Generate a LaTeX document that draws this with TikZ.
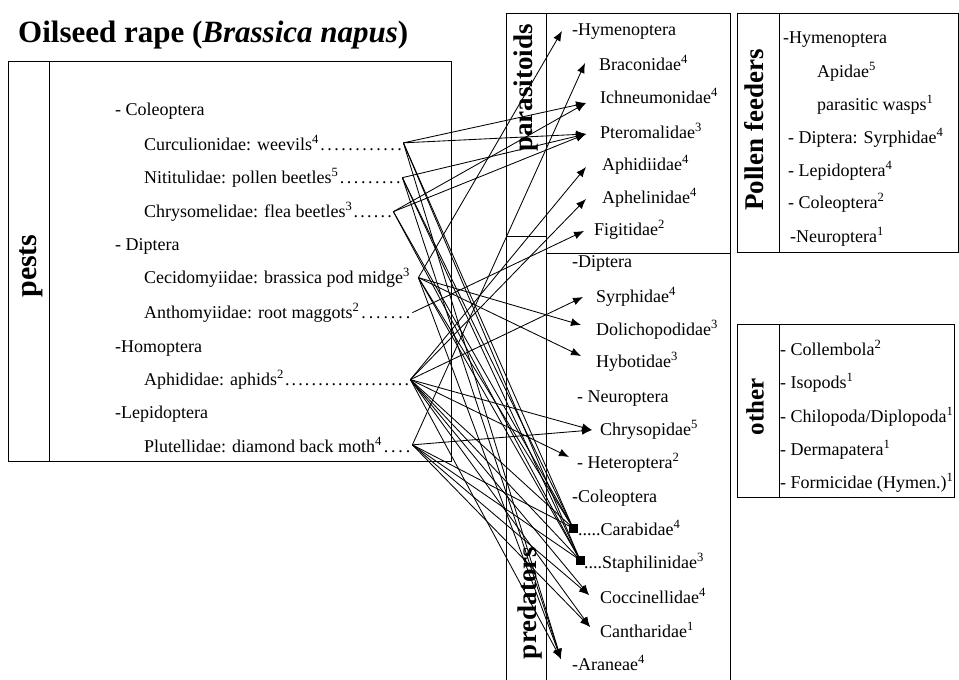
\documentclass[tikz,border=0pt]{standalone}
\usepackage{fontspec}
\setmainfont{Liberation Serif}
\usetikzlibrary{arrows.meta}
\newcommand\pdots{\xleaders\hbox to 6.6pt{\hss.\hss}\hfill}
\begin{document}
\begin{tikzpicture}[x=1pt,y=-1pt,
  txt/.style={anchor=base west,inner sep=0pt,font=\fontsize{18}{20}\selectfont},
  lab/.style={rotate=90,inner sep=0pt,font=\bfseries\fontsize{27}{30}\selectfont},
  boxline/.style={line width=1pt},
  link/.style={line width=0.85pt,-{Latex[length=10pt,width=8pt]}},
  sqlink/.style={line width=0.85pt},
  sqmark/.style={fill=black}]
\fill[white] (0,0) rectangle (959,680);
\useasboundingbox (0,0) rectangle (959,680);

% title
\node[anchor=base west,inner sep=0pt,font=\bfseries\fontsize{31}{34}\selectfont] (title) at (18,42) {Oilseed rape (\textit{Brassica napus})};

% pests box
\draw[boxline] (8,61) rectangle (451,461);
\draw[boxline] (49,61) -- (49,461);
\node[lab,font=\bfseries\fontsize{30}{32}\selectfont] (pests) at (31,266) {pests};
\node[txt] (pcol) at (115,115) {- Coleoptera};
\node[txt] (curc) at (144,150) {\makebox[259pt][l]{Curculionidae: weevils\textsuperscript{4}\pdots}};
\node[txt] (nit) at (144,183) {\makebox[258pt][l]{Nititulidae: pollen beetles\textsuperscript{5}\pdots}};
\node[txt] (chrys) at (144,217) {\makebox[249pt][l]{Chrysomelidae: flea beetles\textsuperscript{3}\pdots}};
\node[txt] (pdipt) at (115,250) {- Diptera};
\node[txt] (cecid) at (144,283) {\makebox[274pt][l]{Cecidomyiidae: brassica pod midge\textsuperscript{3}}};
\node[txt] (anth) at (144,318) {\makebox[268pt][l]{Anthomyiidae: root maggots\textsuperscript{2}\pdots}};
\node[txt] (phom) at (115,352) {-Homoptera};
\node[txt] (aph) at (144,385) {\makebox[266pt][l]{Aphididae: aphids\textsuperscript{2}\pdots}};
\node[txt] (plep) at (115,418) {-Lepidoptera};
\node[txt] (plut) at (144,452) {\makebox[268pt][l]{Plutellidae: diamond back moth\textsuperscript{4}\pdots}};

% parasitoids / predators frame
\draw[boxline] (506,680) -- (506,13) -- (730,13) -- (730,680);
\draw[boxline] (546,13) -- (546,680);
\draw[boxline] (506,236) -- (546,236);
\draw[boxline] (546,253) -- (730,253);
\node[lab] (parlab) at (526,88) {parasitoids};
\node[lab] (predlab) at (530,603) {predators};

\node[txt] (hym) at (572,35) {-Hymenoptera};
\node[txt] (brac) at (599,70) {Braconidae\textsuperscript{4}};
\node[txt] (ichn) at (600,103) {Ichneumonidae\textsuperscript{4}};
\node[txt] (pter) at (600,138) {Pteromalidae\textsuperscript{3}};
\node[txt] (aphidi) at (602,170) {Aphidiidae\textsuperscript{4}};
\node[txt] (aphel) at (602,203) {Aphelinidae\textsuperscript{4}};
\node[txt] (figit) at (594,235) {Figitidae\textsuperscript{2}};

\node[txt] (qdip) at (572,267) {-Diptera};
\node[txt] (syrph) at (596,302) {Syrphidae\textsuperscript{4}};
\node[txt] (dolich) at (596,335) {Dolichopodidae\textsuperscript{3}};
\node[txt] (hybot) at (596,367) {Hybotidae\textsuperscript{3}};
\node[txt] (qneur) at (577,402) {- Neuroptera};
\node[txt] (chrysop) at (600,435) {Chrysopidae\textsuperscript{5}};
\node[txt] (hetero) at (577,468) {- Heteroptera\textsuperscript{2}};
\node[txt] (qcol) at (572,502) {-Coleoptera};
\node[txt] (carab) at (578,535) {.....Carabidae\textsuperscript{4}};
\node[txt] (staph) at (584,568) {....Staphilinidae\textsuperscript{3}};
\node[txt] (cocc) at (600,603) {Coccinellidae\textsuperscript{4}};
\node[txt] (canth) at (600,637) {Cantharidae\textsuperscript{1}};
\node[txt] (aran) at (572,670) {-Araneae\textsuperscript{4}};

% pollen feeders
\draw[boxline] (737,13) rectangle (958,252);
\draw[boxline] (779,13) -- (779,252);
\node[lab] (pollab) at (754,130) {Pollen feeders};
\node[txt] (pf1) at (783,43) {-Hymenoptera};
\node[txt] (pf2) at (817,77) {Apidae\textsuperscript{5}};
\node[txt] (pf3) at (817,110) {parasitic wasps\textsuperscript{1}};
\node[txt] (pf4) at (788,143) {- Diptera: Syrphidae\textsuperscript{4}};
\node[txt] (pf5) at (788,176) {- Lepidoptera\textsuperscript{4}};
\node[txt] (pf6) at (788,208) {- Coleoptera\textsuperscript{2}};
\node[txt] (pf7) at (790,242) {-Neuroptera\textsuperscript{1}};

% other
\draw[boxline] (737,324) rectangle (954,497);
\draw[boxline] (779,324) -- (779,497);
\node[lab,font=\bfseries\fontsize{25}{28}\selectfont] (othlab) at (755,407) {other};
\node[txt] (o1) at (780,355) {- Collembola\textsuperscript{2}};
\node[txt] (o2) at (780,388) {- Isopods\textsuperscript{1}};
\node[txt] (o3) at (780,422) {- Chilopoda/Diplopoda\textsuperscript{1}};
\node[txt] (o4) at (780,455) {- Dermapatera\textsuperscript{1}};
\node[txt] (o5) at (780,488) {- Formicidae (Hymen.)\textsuperscript{1}};

% arrow tip points
\coordinate (thym) at (562,31);
\coordinate (tbrac) at (585,63);
\coordinate (tichn) at (586,103);
\coordinate (tpter) at (586,134);
\coordinate (taphidi) at (586,167);
\coordinate (taphel) at (586,199);
\coordinate (tfigit) at (584,231);
\coordinate (tsyrph) at (583,297);
\coordinate (tdolich) at (581,325);
\coordinate (thybot) at (581,356);
\coordinate (tchrysop) at (592,430);
\coordinate (thetero) at (569,457);
\coordinate (tcarab) at (573,528);
\coordinate (tstaph) at (580,560);
\coordinate (tcocc) at (589,595);
\coordinate (tcanth) at (590,627);
\coordinate (taran) at (561,659);

% connectors
\foreach \s/\t in {curc/ichn, curc/pter, curc/aran, nit/pter, nit/aran,
  chrys/ichn, chrys/pter, cecid/hym, cecid/dolich, cecid/hybot, cecid/aran,
  anth/figit, aph/aphidi, aph/aphel, aph/syrph, aph/chrysop, aph/hetero,
  aph/cocc, aph/canth, aph/aran, plut/brac, plut/chrysop, plut/cocc, plut/canth}
  \draw[link] (\s.east) -- (t\t);
\foreach \s in {curc,nit,chrys,cecid,aph,plut}{
  \draw[sqlink] (\s.east) -- (tcarab);
  \draw[sqlink] (\s.east) -- (tstaph);
}
\fill[sqmark] (tcarab) +(-4.5,-4.5) rectangle +(4.5,4.5);
\fill[sqmark] (tstaph) +(-4.5,-4.5) rectangle +(4.5,4.5);
\end{tikzpicture}
\end{document}
